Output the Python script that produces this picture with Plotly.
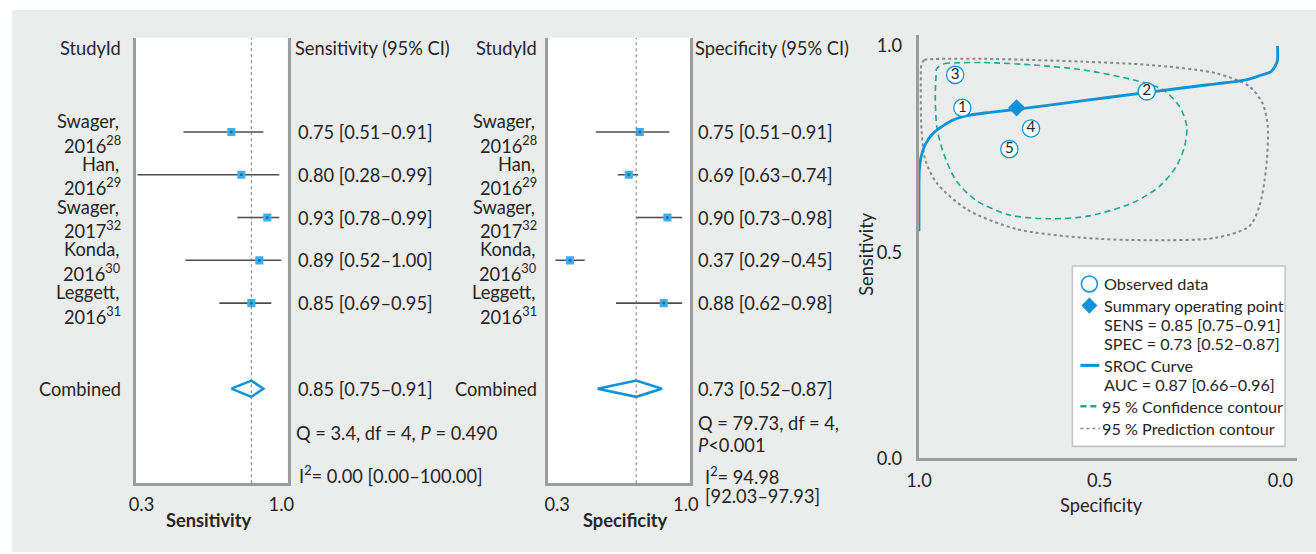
import plotly.graph_objects as go

# ---------------- data ----------------
study_names = ["Swager", "Han", "Swager", "Konda", "Leggett"]
study_years = ["2016", "2016", "2017", "2016", "2016"]
study_refs = ["28", "29", "32", "30", "31"]

sens = [0.75, 0.80, 0.93, 0.89, 0.85]
sens_lo = [0.51, 0.28, 0.78, 0.52, 0.69]
sens_hi = [0.91, 0.99, 0.99, 1.00, 0.95]

spec = [0.75, 0.69, 0.90, 0.37, 0.88]
spec_lo = [0.51, 0.63, 0.73, 0.29, 0.62]
spec_hi = [0.91, 0.74, 0.98, 0.45, 0.98]

pooled_sens = [0.85, 0.75, 0.91]
pooled_spec = [0.73, 0.52, 0.87]
auc = [0.87, 0.66, 0.96]

sens_het_q = "Q = 3.4, df = 4, <i>P</i> = 0.490"
sens_het_i2 = "I<sup>2</sup>= 0.00 [0.00–100.00]"
spec_het_q = ["Q = 79.73, df = 4,", "<i>P</i><0.001"]
spec_het_i2 = ["I<sup>2</sup>= 94.98", "[92.03–97.93]"]

forest_ticks = [0.3, 1.0]
forest_ticktext = ["0.3", "1.0"]
sroc_ticks = [0.0, 0.5, 1.0]
sroc_ticktext = ["0.0", "0.5", "1.0"]

sroc_labels = ["5", "4", "3", "2", "1"]

sroc_spec = [1.000, 1.000, 0.999, 0.994, 0.983, 0.960, 0.914, 0.868, 0.804, 0.733,
             0.550, 0.373, 0.200, 0.095, 0.058, 0.026, 0.014, 0.008, 0.008]
sroc_sens = [0.551, 0.652, 0.700, 0.732, 0.761, 0.789, 0.817, 0.831, 0.839, 0.846,
             0.867, 0.887, 0.906, 0.918, 0.928, 0.938, 0.952, 0.966, 1.000]

conf_spec = [0.951, 0.930, 0.900, 0.822, 0.684, 0.546, 0.408, 0.325, 0.279, 0.259,
             0.265, 0.288, 0.334, 0.408, 0.528, 0.638, 0.749, 0.841, 0.896, 0.930,
             0.950, 0.955, 0.953, 0.951]
conf_sens = [0.945, 0.957, 0.959, 0.960, 0.954, 0.942, 0.918, 0.894, 0.853, 0.805,
             0.757, 0.708, 0.660, 0.620, 0.588, 0.581, 0.590, 0.625, 0.672, 0.735,
             0.800, 0.878, 0.925, 0.945]

pred_spec = [0.993, 0.985, 0.970, 0.822, 0.546, 0.362, 0.178, 0.086, 0.049, 0.035,
             0.040, 0.058, 0.086, 0.178, 0.362, 0.546, 0.730, 0.868, 0.951, 0.983,
             0.993, 0.995, 0.993]
pred_sens = [0.955, 0.966, 0.968, 0.969, 0.962, 0.954, 0.934, 0.902, 0.860, 0.805,
             0.700, 0.612, 0.563, 0.535, 0.529, 0.535, 0.556, 0.604, 0.668, 0.725,
             0.797, 0.902, 0.955]

# ---------------- style ----------------
# Layout positions are given in the 1316x554 reference frame and mapped to the page
# (the photographed page is slightly scaled and offset, measured empirically).
RW, RH = 1316, 554
K = 562 / 554
X_OFF = 11
W, H = 1335, 562
FONT = "Lato"
BG = "#EBECEC"
AXC = "#9C9C9C"
BLUE = "#0E93D8"
SQ = "#41AEE8"
DOT = "#0A6FB3"
TEAL = "#1FA795"
DGRAY = "#8A8A8A"
INK = "#262626"
CI = "#4D4D4D"
FS = 18 * K


def px(x):
    return (x - X_OFF) * K / W


def py(y):
    return 1 - y * K / H


fig = go.Figure()

rows = list(range(len(sens)))
comb_row = 6
half_h = 0.19

panels = [
    ("x", "y", sens, sens_lo, sens_hi, pooled_sens),
    ("x2", "y2", spec, spec_lo, spec_hi, pooled_spec),
]
for xa, ya, est, lo, hi, pooled in panels:
    xs, ys = [], []
    for r, l, h in zip(rows, lo, hi):
        xs += [l, h, None]
        ys += [r, r, None]
    fig.add_trace(go.Scatter(x=xs, y=ys, mode="lines", line=dict(color=CI, width=1.5 * K),
                             xaxis=xa, yaxis=ya, showlegend=False, hoverinfo="skip"))
    fig.add_trace(go.Scatter(x=est, y=rows, mode="markers",
                             marker=dict(symbol="square", size=8 * K, color=SQ, line=dict(width=0)),
                             xaxis=xa, yaxis=ya, showlegend=False))
    fig.add_trace(go.Scatter(x=est, y=rows, mode="markers",
                             marker=dict(symbol="circle", size=3 * K, color=DOT, line=dict(width=0)),
                             xaxis=xa, yaxis=ya, showlegend=False))
    pe, pl, ph = pooled
    fig.add_trace(go.Scatter(x=[pl, pe, ph, pe, pl],
                             y=[comb_row, comb_row - half_h, comb_row, comb_row + half_h, comb_row],
                             mode="lines", line=dict(color=BLUE, width=2.5 * K),
                             xaxis=xa, yaxis=ya, showlegend=False))
    fig.add_shape(type="line", xref=xa, yref=ya + " domain", x0=pe, x1=pe, y0=0, y1=1,
                  line=dict(color="#7A7A7A", width=1, dash="dot"), layer="above")

fig.add_trace(go.Scatter(x=pred_spec, y=pred_sens, mode="lines",
                         line=dict(color=DGRAY, width=2 * K, dash="dot", shape="spline", smoothing=0.8),
                         xaxis="x3", yaxis="y3", showlegend=False))
fig.add_trace(go.Scatter(x=conf_spec, y=conf_sens, mode="lines",
                         line=dict(color=TEAL, width=1.6 * K, dash="6px,4px", shape="spline", smoothing=0.8),
                         xaxis="x3", yaxis="y3", showlegend=False))
fig.add_trace(go.Scatter(x=sroc_spec, y=sroc_sens, mode="lines",
                         line=dict(color=BLUE, width=2.8 * K, shape="spline", smoothing=0.6),
                         xaxis="x3", yaxis="y3", showlegend=False))
fig.add_trace(go.Scatter(x=spec, y=sens, mode="markers+text", text=sroc_labels, textposition="middle center",
                         textfont=dict(family=FONT, size=15 * K, color=INK),
                         marker=dict(symbol="circle", size=17 * K, color="white", line=dict(color=BLUE, width=1.3 * K)),
                         xaxis="x3", yaxis="y3", showlegend=False))
fig.add_trace(go.Scatter(x=[pooled_spec[0]], y=[pooled_sens[0]], mode="markers",
                         marker=dict(symbol="diamond", size=13 * K, color=BLUE, line=dict(width=0)),
                         xaxis="x3", yaxis="y3", showlegend=False))

fig.add_shape(type="rect", xref="paper", yref="paper", x0=max(px(8), 0), x1=1, y0=0, y1=py(10),
              fillcolor=BG, line=dict(width=0), layer="below")
for x0, x1 in [(135, 287), (548, 690)]:
    fig.add_shape(type="rect", xref="paper", yref="paper", x0=px(x0), x1=px(x1), y0=py(485), y1=py(38),
                  fillcolor="white", line=dict(width=0), layer="below")

axis_common = dict(showgrid=False, zeroline=False, showline=True, linecolor=AXC, linewidth=2.5 * K,
                   ticks="", tickfont=dict(family=FONT, size=FS, color=INK), fixedrange=True)

yr = [8.21, -2.2]
fig.update_layout(
    xaxis=dict(domain=[px(135), px(287)], range=[0.2715, 1.0315], tickvals=forest_ticks,
               ticktext=forest_ticktext, anchor="y", ticklabelstandoff=3, **axis_common),
    yaxis=dict(domain=[py(485), py(38)], range=yr, showticklabels=False, mirror=True,
               anchor="x", **axis_common),
    xaxis2=dict(domain=[px(548), px(690)], range=[0.2511, 1.0228], tickvals=forest_ticks,
                ticktext=forest_ticktext, anchor="y2", ticklabelstandoff=3, **axis_common),
    yaxis2=dict(domain=[py(485), py(38)], range=yr, showticklabels=False, mirror=True,
                anchor="x2", **axis_common),
    xaxis3=dict(domain=[px(919), px(1298)], range=[1.001, -0.046], tickvals=sroc_ticks,
                ticktext=sroc_ticktext, anchor="y3", ticklabelstandoff=4, **axis_common),
    yaxis3=dict(domain=[py(460), py(35)], range=[0, 1.027], tickvals=sroc_ticks,
                ticktext=sroc_ticktext, anchor="x3", ticklabelstandoff=10, **axis_common),
)


def ann(x, y, text, xanchor="left", size=FS, yref="paper", yshift=0, **kw):
    fig.add_annotation(x=px(x), xref="paper", y=(py(y) if yref == "paper" else y), yref=yref,
                       text=text, showarrow=False, xanchor=xanchor, yanchor="middle",
                       align=xanchor, yshift=yshift * K,
                       font=dict(family=FONT, size=size, color=INK), **kw)


for (name_x, val_x, yref, est, lo, hi, pooled, header) in [
    (122, 295, "y", sens, sens_lo, sens_hi, pooled_sens, "Sensitivity (95% CI)"),
    (539, 696, "y2", spec, spec_lo, spec_hi, pooled_spec, "Specificity (95% CI)"),
]:
    ann(name_x, 48, "StudyId", xanchor="right")
    ann(val_x - 3, 48, header)
    for r, n, yy, rf, e, l, h in zip(rows, study_names, study_years, study_refs, est, lo, hi):
        ann(name_x - 2, r, f"{n},", xanchor="right", yref=yref, yshift=10.8)
        ann(name_x, r, f"{yy}<sup>{rf}</sup>", xanchor="right", yref=yref, yshift=-12)
        ann(val_x, r, f"{e:.2f} [{l:.2f}–{h:.2f}]", yref=yref)
    ann(name_x, comb_row, "Combined", xanchor="right", yref=yref)
    ann(val_x, comb_row, f"{pooled[0]:.2f} [{pooled[1]:.2f}–{pooled[2]:.2f}]", yref=yref)

ann(293, 435, sens_het_q)
ann(296, 476, sens_het_i2)
ann(696, 425, spec_het_q[0])
ann(696, 446.5, spec_het_q[1])
ann(703, 477, spec_het_i2[0])
ann(703, 498, spec_het_i2[1])

ann(208, 522, "<b>Sensitivity</b>", xanchor="center")
ann(625, 522, "<b>Specificity</b>", xanchor="center")
ann(1102, 507, "Specificity", xanchor="center")
fig.add_annotation(x=px(866), xref="paper", y=py(255), yref="paper", text="Sensitivity",
                   textangle=-90, showarrow=False, xanchor="center", yanchor="middle",
                   font=dict(family=FONT, size=FS, color=INK))

LX0, LX1, LY0, LY1 = 1073, 1286, 267, 448
fig.add_shape(type="rect", xref="paper", yref="paper", x0=px(LX0), x1=px(LX1), y0=py(LY1), y1=py(LY0),
              fillcolor="white", line=dict(color="#C4C4C4", width=1.5 * K))
fig.add_shape(type="circle", xref="paper", yref="paper", x0=px(1082), x1=px(1098), y0=py(293), y1=py(277),
              fillcolor="white", line=dict(color=BLUE, width=1.5 * K))
fig.add_shape(type="path", xref="paper", yref="paper",
              path=f"M {px(1082)} {py(306.7)} L {px(1090)} {py(298.5)} L {px(1098)} {py(306.7)} L {px(1090)} {py(314.9)} Z",
              fillcolor=BLUE, line=dict(width=0))
fig.add_shape(type="line", xref="paper", yref="paper", x0=px(1081), x1=px(1100), y0=py(366.7), y1=py(366.7),
              line=dict(color=BLUE, width=3 * K))
fig.add_shape(type="line", xref="paper", yref="paper", x0=px(1081), x1=px(1101), y0=py(407.7), y1=py(407.7),
              line=dict(color=TEAL, width=2.5 * K, dash="6px,4px"))
fig.add_shape(type="line", xref="paper", yref="paper", x0=px(1081), x1=px(1101), y0=py(430), y1=py(430),
              line=dict(color=DGRAY, width=1.5 * K, dash="dot"))
LS = 16 * K
ann(1103, 285, "Observed data", size=LS)
ann(1103, 306.7, "Summary operating point", size=LS)
ann(1103, 325.7, f"SENS = {pooled_sens[0]:.2f} [{pooled_sens[1]:.2f}–{pooled_sens[2]:.2f}]", size=LS)
ann(1103, 344.5, f"SPEC = {pooled_spec[0]:.2f} [{pooled_spec[1]:.2f}–{pooled_spec[2]:.2f}]", size=LS)
ann(1103, 366.7, "SROC Curve", size=LS)
ann(1103, 385.7, f"AUC = {auc[0]:.2f} [{auc[1]:.2f}–{auc[2]:.2f}]", size=LS)
ann(1101, 407.7, "95 % Confidence contour", size=LS)
ann(1101, 430, "95 % Prediction contour", size=LS)

fig.update_layout(width=W, height=H, autosize=False, margin=dict(l=0, r=0, t=0, b=0, pad=0),
                  paper_bgcolor="white", plot_bgcolor="rgba(0,0,0,0)",
                  font=dict(family=FONT, size=FS, color=INK), showlegend=False)

page_js = ("document.body.style.margin='0px';document.body.style.padding='0px';"
           "document.body.style.background='" + BG + "';"
           "document.documentElement.style.background='" + BG + "';")
fig.write_html("out.html", config={"displayModeBar": False}, post_script=page_js)
